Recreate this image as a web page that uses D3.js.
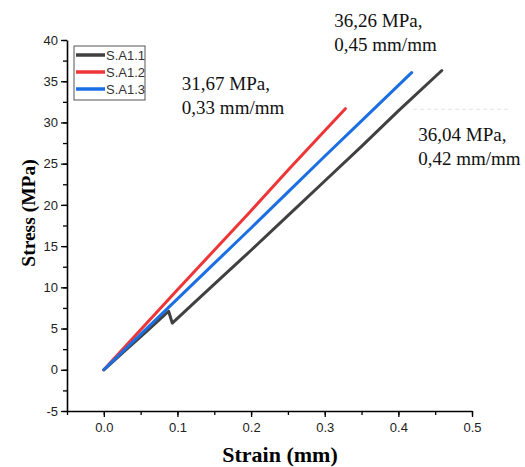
<!DOCTYPE html>
<html>
<head>
<meta charset="utf-8">
<script src="https://cdn.jsdelivr.net/npm/d3@7"></script>
<style>
  body { margin: 0; background: #fff; }
  .tick text { font-family: Arial, "Liberation Sans", sans-serif; font-size: 13px; fill: #222; }
</style>
</head>
<body>
<svg id="chart"></svg>
<script>
// data
var seriesNames = ["S.A1.1", "S.A1.2", "S.A1.3"];
var seriesColors = ["#404040", "#ee3538", "#1b6fe3"];

var strainA11 = [0, 0.03, 0.06, 0.088, 0.093, 0.12, 0.16, 0.2, 0.25, 0.3, 0.35, 0.4, 0.459];
var stressA11 = [0, 2.4, 4.8, 7.1, 5.66, 7.9, 11.2, 14.5, 18.7, 22.9, 27.1, 31.4, 36.3];

var strainA12 = [0, 0.05, 0.1, 0.15, 0.2, 0.25, 0.3, 0.328];
var stressA12 = [0, 4.85, 9.7, 14.5, 19.3, 24.2, 29.0, 31.67];

var strainA13 = [0, 0.05, 0.1, 0.15, 0.2, 0.25, 0.3, 0.35, 0.418];
var stressA13 = [0, 4.3, 8.6, 12.9, 17.2, 21.55, 25.9, 30.2, 36.04];

var xTicks = [0, 0.1, 0.2, 0.3, 0.4, 0.5];
var yTicks = [-5, 0, 5, 10, 15, 20, 25, 30, 35, 40];

var notes = [
  {lines: ["31,67 MPa,", "0,33 mm/mm"], x: 0.106, y: 33.9},
  {lines: ["36,26 MPa,", "0,45 mm/mm"], x: 0.313, y: 41.6},
  {lines: ["36,04 MPa,", "0,42 mm/mm"], x: 0.427, y: 27.8}
];

// set the dimensions and margins of the graph
var margin = {top: 40, right: 53, bottom: 56, left: 67},
    width = 525 - margin.left - margin.right,
    height = 467 - margin.top - margin.bottom;

var svg = d3.select("#chart")
    .attr("width", 525)
    .attr("height", 467)
  .append("g")
    .attr("transform", "translate(" + margin.left + "," + margin.top + ")");

var x = d3.scaleLinear().domain([-0.05, 0.5]).range([0, width]);
var y = d3.scaleLinear().domain([-5, 40]).range([height, 0]);

// minor ticks first, then the labelled axes on top
svg.append("g")
  .attr("transform", "translate(0," + height + ")")
  .call(d3.axisBottom(x).tickValues(d3.range(-0.05, 0.51, 0.05)).tickSize(4).tickFormat(""))
  .call(function(g) { g.select(".domain").remove(); })
  .selectAll("line").attr("stroke-width", 1.3);

svg.append("g")
  .call(d3.axisLeft(y).tickValues(d3.range(-5, 40.1, 2.5)).tickSize(4).tickFormat(""))
  .call(function(g) { g.select(".domain").remove(); })
  .selectAll("line").attr("stroke-width", 1.3);

var xAxis = svg.append("g")
  .attr("transform", "translate(0," + height + ")")
  .call(d3.axisBottom(x).tickValues(xTicks).tickSize(6).tickSizeOuter(0).tickPadding(6).tickFormat(d3.format(".1f")));

var yAxis = svg.append("g")
  .call(d3.axisLeft(y).tickValues(yTicks).tickSize(6).tickSizeOuter(0).tickPadding(3).tickFormat(function(d) { return d; }));

svg.selectAll(".domain").attr("stroke-width", 1.6);
svg.selectAll(".tick line").attr("stroke-width", 1.3);

// axis titles
svg.append("text")
  .attr("text-anchor", "middle")
  .attr("x", 280 - margin.left)
  .attr("y", 462 - margin.top)
  .attr("font-family", "'Liberation Serif', 'Times New Roman', serif")
  .attr("font-weight", "bold")
  .attr("font-size", "22px")
  .text("Strain (mm)");

svg.append("text")
  .attr("text-anchor", "middle")
  .attr("transform", "rotate(-90)")
  .attr("x", -(213 - margin.top))
  .attr("y", 35 - margin.left)
  .attr("font-family", "'Liberation Serif', 'Times New Roman', serif")
  .attr("font-weight", "bold")
  .attr("font-size", "19.5px")
  .text("Stress (MPa)");

// curves
var curves = [
  {xs: strainA11, ys: stressA11},
  {xs: strainA12, ys: stressA12},
  {xs: strainA13, ys: stressA13}
];

var line = d3.line()
  .x(function(d) { return x(d[0]); })
  .y(function(d) { return y(d[1]); });

curves.forEach(function(c, i) {
  svg.append("path")
    .datum(d3.zip(c.xs, c.ys))
    .attr("fill", "none")
    .attr("stroke", seriesColors[i])
    .attr("stroke-width", 3)
    .attr("stroke-linejoin", "round")
    .attr("stroke-linecap", "round")
    .attr("d", line);
});

// faint dashed trace right of the black curve end
svg.append("line")
  .attr("x1", x(0.42)).attr("x2", x(0.55))
  .attr("y1", y(31.6)).attr("y2", y(31.6))
  .attr("stroke", "#e2e2e2")
  .attr("stroke-width", 1)
  .attr("stroke-dasharray", "4,3");

// annotations
notes.forEach(function(n) {
  var t = svg.append("text")
    .attr("font-family", "'Liberation Serif', 'Times New Roman', serif")
    .attr("font-size", "19px")
    .attr("fill", "#111");
  n.lines.forEach(function(s, k) {
    t.append("tspan")
      .attr("x", x(n.x))
      .attr("y", y(n.y) + k * 24)
      .text(s);
  });
});

// legend
var legend = svg.append("g")
  .attr("transform", "translate(" + (74 - margin.left) + "," + (46 - margin.top) + ")");

legend.append("rect")
  .attr("width", 71)
  .attr("height", 54)
  .attr("fill", "#fff")
  .attr("stroke", "#555")
  .attr("stroke-width", 1);

seriesNames.forEach(function(name, i) {
  legend.append("line")
    .attr("x1", 2).attr("x2", 31)
    .attr("y1", 9 + i * 17).attr("y2", 9 + i * 17)
    .attr("stroke", seriesColors[i])
    .attr("stroke-width", 3.5);
  legend.append("text")
    .attr("x", 32)
    .attr("y", 9 + i * 17)
    .attr("dy", "0.36em")
    .attr("font-family", "Arial, 'Liberation Sans', sans-serif")
    .attr("font-size", "13px")
    .attr("fill", "#333")
    .text(name);
});
</script>
</body>
</html>
